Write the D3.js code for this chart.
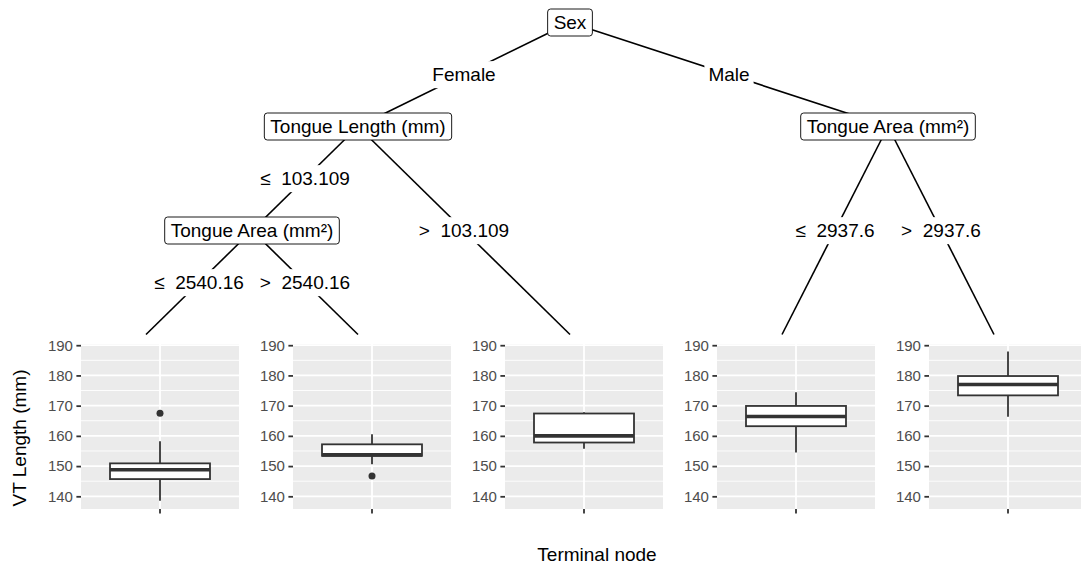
<!DOCTYPE html>
<html>
<head>
<meta charset="utf-8">
<script src="https://cdn.jsdelivr.net/npm/d3@7"></script>
<style>
  body { margin: 0; background: #fff; }
  text { font-family: "Liberation Sans", Arial, Helvetica, sans-serif; }
</style>
</head>
<body>
<div id="chart"></div>
<script>
// conditional inference tree with boxplots in the terminal nodes

// tree structure
const nodeIds = [1, 2, 3, 4, 5, 6, 7, 8, 9];
const nodeParents = [null, 1, 2, 3, 3, 2, 1, 7, 7];
const nodeSplits = ["Sex", "Tongue Length (mm)", "Tongue Area (mm\u00b2)", null, null, null, "Tongue Area (mm\u00b2)", null, null];
const edgeLabels = [null, "Female", "\u2264\u00a0\u00a0103.109", "\u2264\u00a0\u00a02540.16", ">\u00a0\u00a02540.16",
                    ">\u00a0\u00a0103.109", "Male", "\u2264\u00a0\u00a02937.6", ">\u00a0\u00a02937.6"];

// boxplot stats per terminal node (VT Length, mm)
const leafIds = [4, 5, 6, 8, 9];
const whiskerLow = [138.5, 150.6, 155.7, 154.5, 166.3];
const q1 = [145.7, 153.4, 157.8, 163.2, 173.4];
const median = [148.8, 153.7, 160.0, 166.4, 177.0];
const q3 = [150.9, 157.2, 167.4, 169.9, 179.8];
const whiskerHigh = [158.2, 160.5, 167.8, 174.4, 187.9];
const outliers = [[167.5], [146.7], [], [], []];

const yTicks = [140, 150, 160, 170, 180, 190];
const yMinor = [145, 155, 165, 175, 185];

const width = 1081, height = 568;
const treeFont = 19, tickFont = 15;

const svg = d3.select("#chart").append("svg")
  .attr("width", width)
  .attr("height", height);

// build hierarchy
const table = nodeIds.map((id, i) => ({
  id: id, parent: nodeParents[i], split: nodeSplits[i], edge: edgeLabels[i]
}));
const root = d3.stratify()
  .id(d => d.id)
  .parentId(d => d.parent)(table);

const leaves = root.leaves();
const maxDepth = d3.max(leaves, d => d.depth);

// x: leaves evenly spread, inner nodes at mean of their leaves
const xTree = d3.scaleLinear().domain([0, 1]).range([40, 1100]);
const yTree = d3.scaleLinear().domain([0, maxDepth]).range([22.5, 334.5]);

leaves.forEach((d, i) => { d.xv = xTree((i + 0.5) / leaves.length); });
root.eachAfter(d => {
  if (d.children) d.xv = d3.mean(d.leaves(), l => l.xv);
  d.yv = d.children ? yTree(d.depth) : yTree(maxDepth);
});

// edges
const links = root.links();
svg.append("g").selectAll("line")
  .data(links)
  .join("line")
  .attr("x1", d => d.source.xv)
  .attr("y1", d => d.source.yv)
  .attr("x2", d => d.target.xv)
  .attr("y2", d => d.target.yv)
  .attr("stroke", "#000")
  .attr("stroke-width", 1.6);

// edge labels (white label hides the line)
const edgeG = svg.append("g").selectAll("g")
  .data(links)
  .join("g")
  .attr("transform", d => "translate(" + (d.source.xv + d.target.xv) / 2 + "," + (d.source.yv + d.target.yv) / 2 + ")");
edgeG.append("rect").attr("fill", "#fff");
edgeG.append("text")
  .attr("text-anchor", "middle")
  .attr("dy", "0.35em")
  .attr("font-size", treeFont)
  .text(d => d.target.data.edge);
edgeG.each(function() {
  const bb = d3.select(this).select("text").node().getBBox();
  d3.select(this).select("rect")
    .attr("x", bb.x - 4).attr("y", bb.y - 3)
    .attr("width", bb.width + 8).attr("height", bb.height + 6);
});

// inner node labels
const inner = root.descendants().filter(d => d.children);
const nodeG = svg.append("g").selectAll("g")
  .data(inner)
  .join("g")
  .attr("transform", d => "translate(" + d.xv + "," + d.yv + ")");
nodeG.append("rect")
  .attr("fill", "#fff")
  .attr("stroke", "#000")
  .attr("stroke-width", 0.9)
  .attr("rx", 3);
nodeG.append("text")
  .attr("text-anchor", "middle")
  .attr("dy", "0.35em")
  .attr("font-size", treeFont)
  .text(d => d.data.split);
nodeG.each(function() {
  const w = d3.select(this).select("text").node().getComputedTextLength();
  d3.select(this).select("rect")
    .attr("x", -w / 2 - 6).attr("y", -13.5)
    .attr("width", w + 12).attr("height", 27);
});

// terminal node boxplots
const panelW = 158, panelH = 165, panelTop = 344;
const y = d3.scaleLinear().domain([135.8, 190.4]).range([panelH, 0]);

leaves.forEach((leaf, i) => {
  const g = svg.append("g")
    .attr("transform", "translate(" + (leaf.xv - 65) + "," + panelTop + ")");
  const x = d3.scaleBand().domain([leafIds[i]]).range([0, panelW]).paddingOuter(0.29);
  const cx = x(leafIds[i]) + x.bandwidth() / 2;

  g.append("rect")
    .attr("width", panelW).attr("height", panelH)
    .attr("fill", "#EBEBEB");

  g.selectAll(".minor")
    .data(yMinor)
    .join("line")
    .attr("class", "minor")
    .attr("x1", 0).attr("x2", panelW)
    .attr("y1", d => y(d)).attr("y2", d => y(d))
    .attr("stroke", "#fff").attr("stroke-width", 0.9);
  g.selectAll(".major")
    .data(yTicks)
    .join("line")
    .attr("class", "major")
    .attr("x1", 0).attr("x2", panelW)
    .attr("y1", d => y(d)).attr("y2", d => y(d))
    .attr("stroke", "#fff").attr("stroke-width", 1.8);
  g.append("line")
    .attr("x1", cx).attr("x2", cx)
    .attr("y1", 0).attr("y2", panelH)
    .attr("stroke", "#fff").attr("stroke-width", 1.8);

  // y axis
  const ax = g.append("g")
    .call(d3.axisLeft(y).tickValues(yTicks).tickSize(4.6).tickPadding(3.5));
  ax.select(".domain").remove();
  ax.selectAll(".tick line").attr("stroke", "#333").attr("stroke-width", 1.8);
  ax.selectAll(".tick text")
    .attr("fill", "#4D4D4D")
    .attr("font-size", tickFont)
    .style("font-family", "'Liberation Sans', Arial, sans-serif");

  // x tick
  g.append("line")
    .attr("x1", cx).attr("x2", cx)
    .attr("y1", panelH).attr("y2", panelH + 4.6)
    .attr("stroke", "#333").attr("stroke-width", 1.8);

  // whiskers
  g.append("line")
    .attr("x1", cx).attr("x2", cx)
    .attr("y1", y(whiskerHigh[i])).attr("y2", y(q3[i]))
    .attr("stroke", "#333").attr("stroke-width", 1.8);
  g.append("line")
    .attr("x1", cx).attr("x2", cx)
    .attr("y1", y(q1[i])).attr("y2", y(whiskerLow[i]))
    .attr("stroke", "#333").attr("stroke-width", 1.8);

  // box
  g.append("rect")
    .attr("x", x(leafIds[i]))
    .attr("y", y(q3[i]))
    .attr("width", x.bandwidth())
    .attr("height", y(q1[i]) - y(q3[i]))
    .attr("fill", "#fff")
    .attr("stroke", "#333").attr("stroke-width", 1.8);
  g.append("line")
    .attr("x1", x(leafIds[i])).attr("x2", x(leafIds[i]) + x.bandwidth())
    .attr("y1", y(median[i])).attr("y2", y(median[i]))
    .attr("stroke", "#333").attr("stroke-width", 3.6);

  // outliers
  g.selectAll(".out")
    .data(outliers[i])
    .join("circle")
    .attr("class", "out")
    .attr("cx", cx)
    .attr("cy", d => y(d))
    .attr("r", 3.5)
    .attr("fill", "#333");
});

// axis titles
svg.append("text")
  .attr("x", 597).attr("y", 561)
  .attr("text-anchor", "middle")
  .attr("font-size", treeFont)
  .text("Terminal node");
svg.append("text")
  .attr("transform", "translate(26,438) rotate(-90)")
  .attr("text-anchor", "middle")
  .attr("font-size", treeFont)
  .text("VT Length (mm)");
</script>
</body>
</html>
